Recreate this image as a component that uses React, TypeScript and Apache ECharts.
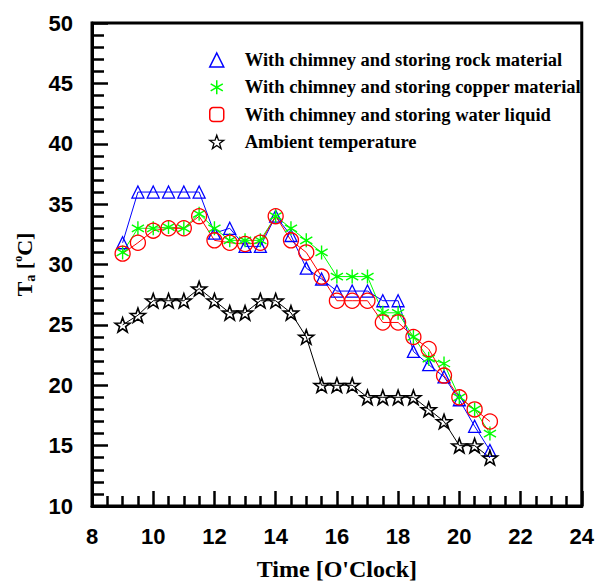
import React, { useEffect, useRef } from 'react';
import * as echarts from 'echarts';

// Hourly readings (every half hour, 9:00 to 21:00)
const hours = [9, 9.5, 10, 10.5, 11, 11.5, 12, 12.5, 13, 13.5, 14, 14.5, 15, 15.5, 16, 16.5, 17, 17.5, 18, 18.5, 19, 19.5, 20, 20.5, 21];

const rockTemp = [31.8, 36, 36, 36, 36, 36, 32.6, 33, 31.5, 31.5, 34, 32.4, 29.7, 28.8, 27.8, 27.8, 27.8, 27, 27, 22.8, 21.7, 20.7, 18.8, 16.6, 14.6];
const copperTemp = [31, 33, 33, 33.1, 33, 34.2, 33, 32, 32, 32, 34, 33, 32, 31, 29, 29, 29, 26, 26, 24, 22.2, 21.8, 19, 18, 16];
const waterTemp = [30.9, 31.8, 32.8, 33, 33, 34, 32, 31.8, 31.7, 31.8, 34, 32, 31, 29, 27, 27, 27, 25.2, 25.2, 24, 23, 20.8, 19, 18, 17];
const ambientTemp = [25, 25.8, 27, 27, 27, 28, 27, 26, 26, 27, 27, 26, 24, 20, 20, 20, 19, 19, 19, 19, 18, 17, 15, 15, 14];

const seriesNames = [
  'With chimney and storing rock material',
  'With chimney and storing copper material',
  'With chimney and storing water liquid',
  'Ambient temperature',
];

const yTicks = { min: 10, max: 50, step: 5 };
const xTicks = { min: 8, max: 24, step: 2 };

const STAR = 'path://M0,-10L2.35,-3.24L9.51,-3.09L3.8,1.24L5.88,8.09L0,4L-5.88,8.09L-3.8,1.24L-9.51,-3.09L-2.35,-3.24Z';
const ASTERISK = 'path://M0,-10L0,10M-8.66,-5L8.66,5M-8.66,5L8.66,-5';

const BLUE = '#0000ff';
const GREEN = '#00ff00';
const RED = '#ff0000';
const BLACK = '#000000';

const serif = 'Liberation Serif, Times New Roman, serif';
const sans = 'Liberation Sans, Arial, sans-serif';

function makeSeries(name: string, values: number[], color: string, symbol: string, size: number, bw: number) {
  return {
    name,
    type: 'line',
    data: hours.map((h, i) => [h, values[i]]),
    symbol,
    symbolSize: size,
    symbolKeepAspect: true,
    showAllSymbol: true,
    lineStyle: { color, width: 1 },
    itemStyle: { color: 'rgba(255,255,255,0)', borderColor: color, borderWidth: bw },
    emphasis: { disabled: true },
  };
}

export default function App() {
  const ref = useRef<HTMLDivElement>(null);

  useEffect(() => {
    if (!ref.current) return;
    const chart = echarts.init(ref.current, null, { renderer: 'svg' });
    const legendItem = (name: string, icon: string, color: string, bw: number) => ({
      name,
      icon,
      itemStyle: { color: 'rgba(255,255,255,0)', borderColor: color, borderWidth: bw },
    });

    chart.setOption({
      animation: false,
      backgroundColor: '#ffffff',
      grid: {
        left: 92,
        right: 14,
        top: 23,
        bottom: 73,
        show: true,
        borderColor: BLACK,
        borderWidth: 3,
      },
      legend: {
        orient: 'vertical',
        left: 204,
        top: 45,
        itemWidth: 14,
        itemHeight: 14,
        itemGap: 7.3,
        selectedMode: false,
        textStyle: {
          fontFamily: serif,
          fontWeight: 'bold',
          fontSize: 18.5,
          color: BLACK,
          lineHeight: 20,
          padding: [0, 0, 0, 16],
        },
        data: [
          legendItem(seriesNames[0], 'triangle', BLUE, 1.5),
          legendItem(seriesNames[1], ASTERISK, GREEN, 1.5),
          legendItem(seriesNames[2], 'roundRect', RED, 1.5),
          legendItem(seriesNames[3], STAR, BLACK, 1.3),
        ],
      },
      xAxis: {
        type: 'value',
        min: xTicks.min,
        max: xTicks.max,
        interval: xTicks.step,
        name: "Time [O'Clock]",
        nameLocation: 'middle',
        nameGap: 51,
        nameTextStyle: { fontFamily: serif, fontWeight: 'bold', fontSize: 24, color: BLACK },
        axisLine: { lineStyle: { color: BLACK, width: 3 } },
        axisTick: { inside: true, length: 15, lineStyle: { color: BLACK, width: 2.5 } },
        minorTick: { show: true, splitNumber: 4, length: 10, lineStyle: { color: BLACK, width: 2.5 } },
        axisLabel: { fontFamily: sans, fontWeight: 'bold', fontSize: 22, color: BLACK, margin: 19 },
        splitLine: { show: false },
      },
      yAxis: {
        type: 'value',
        min: yTicks.min,
        max: yTicks.max,
        interval: yTicks.step,
        name: '{t|T}{s|a}{t| [}{p|o}{t|C]}',
        nameLocation: 'middle',
        nameGap: 55,
        nameRotate: 90,
        nameTextStyle: {
          fontFamily: serif,
          fontWeight: 'bold',
          fontSize: 22,
          color: BLACK,
          rich: {
            t: { fontFamily: serif, fontWeight: 'bold', fontSize: 22, color: BLACK },
            s: { fontFamily: serif, fontWeight: 'bold', fontSize: 14, color: BLACK, padding: [12, 0, 0, 0] },
            p: { fontFamily: serif, fontWeight: 'bold', fontSize: 12, color: BLACK, padding: [0, 0, 12, 0] },
          },
        },
        axisLine: { lineStyle: { color: BLACK, width: 3 } },
        axisTick: { inside: true, length: 16, lineStyle: { color: BLACK, width: 2.5 } },
        minorTick: { show: true, splitNumber: 5, length: 12, lineStyle: { color: BLACK, width: 2.5 } },
        axisLabel: { fontFamily: sans, fontWeight: 'bold', fontSize: 22, color: BLACK, margin: 19 },
        splitLine: { show: false },
      },
      series: [
        makeSeries(seriesNames[0], rockTemp, BLUE, 'triangle', 12, 1.3),
        makeSeries(seriesNames[1], copperTemp, GREEN, ASTERISK, 14, 1.4),
        makeSeries(seriesNames[2], waterTemp, RED, 'circle', 15, 1.3),
        makeSeries(seriesNames[3], ambientTemp, BLACK, STAR, 15, 1.6),
      ],
    });
    return () => chart.dispose();
  }, []);

  return (
    <div
      ref={ref}
      style={{ position: 'fixed', left: 0, top: 0, width: 597, height: 586, background: '#fff' }}
    />
  );
}
